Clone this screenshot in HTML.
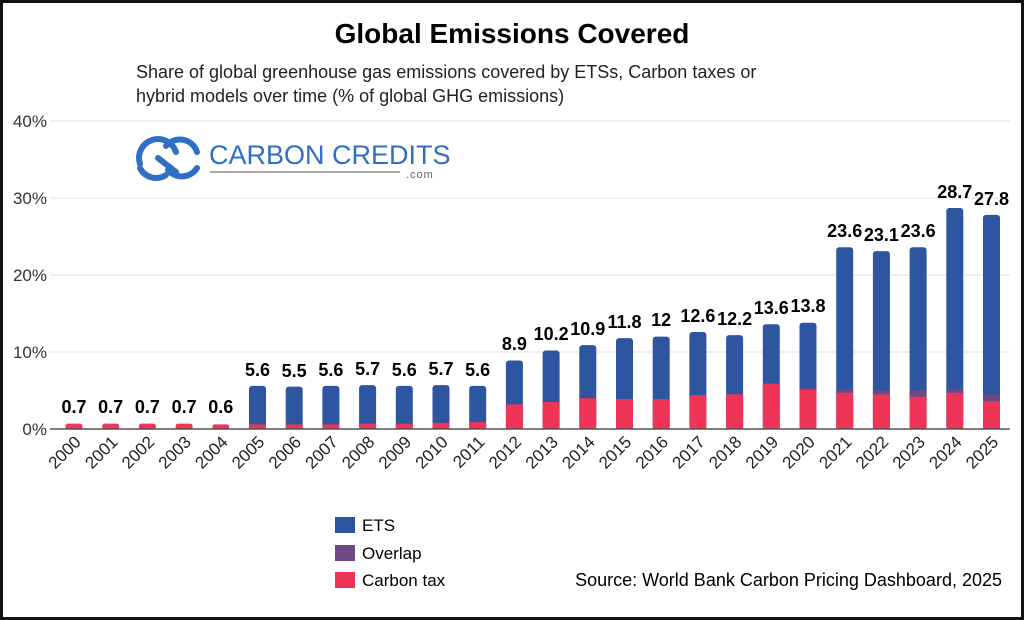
<!DOCTYPE html>
<html><head><meta charset="utf-8"><style>
body{margin:0;background:#fff}
svg{display:block;font-family:"Liberation Sans",Arial,sans-serif}
</style></head><body>
<svg width="1024" height="620" viewBox="0 0 1024 620">
<rect x="1.5" y="1.5" width="1021" height="617" fill="#fff" stroke="#111" stroke-width="3"/>
<text x="512" y="43" text-anchor="middle" font-size="28" font-weight="bold" fill="#000">Global Emissions Covered</text>
<text x="136" y="78" font-size="18" fill="#222">Share of global greenhouse gas emissions covered by ETSs, Carbon taxes or</text>
<text x="136" y="102" font-size="18" fill="#222">hybrid models over time (% of global GHG emissions)</text>
<g stroke="#e2e2e2" stroke-width="1">
<line x1="50" x2="1010" y1="121" y2="121"/><line x1="50" x2="1010" y1="198" y2="198"/>
<line x1="50" x2="1010" y1="275" y2="275"/><line x1="50" x2="1010" y1="352" y2="352"/>
</g>
<g font-size="17" fill="#333" text-anchor="end">
<text x="47" y="127">40%</text><text x="47" y="204">30%</text><text x="47" y="281">20%</text><text x="47" y="358">10%</text><text x="47" y="435">0%</text>
</g>
<g fill="none" stroke="#2f6fc4" stroke-width="6" stroke-linecap="round">
<path d="M140 164 A18 18 0 0 1 176 152"/>
<path d="M158 158 L176 172"/>
<path d="M140 168 A18 18 0 0 0 166 175"/>
<path d="M166 146 A18 18 0 0 1 197 152"/>
<path d="M197 168 A18 18 0 0 1 168 170"/>
</g>
<text x="209" y="164" font-size="27" fill="#2f6fc4">CARBON CREDITS</text>
<line x1="210" y1="172" x2="400" y2="172" stroke="#777" stroke-width="1.2"/>
<text x="406" y="178" font-size="11" fill="#666" letter-spacing="1">.com</text>

<g fill="#2e55a0">
<rect x="249" y="385.9" width="17" height="43" rx="3"/>
<rect x="285.7" y="386.6" width="17" height="42" rx="3"/>
<rect x="322.4" y="385.9" width="17" height="43" rx="3"/>
<rect x="359.1" y="385.1" width="17" height="43" rx="3"/>
<rect x="395.8" y="385.9" width="17" height="43" rx="3"/>
<rect x="432.5" y="385.1" width="17" height="43" rx="3"/>
<rect x="469.2" y="385.9" width="17" height="43" rx="3"/>
<rect x="505.9" y="360.5" width="17" height="68" rx="3"/>
<rect x="542.6" y="350.5" width="17" height="78" rx="3"/>
<rect x="579.3" y="345.1" width="17" height="83" rx="3"/>
<rect x="616" y="338.1" width="17" height="90" rx="3"/>
<rect x="652.7" y="336.6" width="17" height="92" rx="3"/>
<rect x="689.4" y="332" width="17" height="96" rx="3"/>
<rect x="726.1" y="335.1" width="17" height="93" rx="3"/>
<rect x="762.8" y="324.3" width="17" height="104" rx="3"/>
<rect x="799.5" y="322.7" width="17" height="106" rx="3"/>
<rect x="836.2" y="247.3" width="17" height="181" rx="3"/>
<rect x="872.9" y="251.1" width="17" height="177" rx="3"/>
<rect x="909.6" y="247.3" width="17" height="181" rx="3"/>
<rect x="946.3" y="208" width="17" height="221" rx="3"/>
<rect x="983" y="214.9" width="17" height="214" rx="3"/>
</g>
<g fill="#6d4a86">
<rect x="799.5" y="387.4" width="17" height="2.3"/>
<rect x="836.2" y="388.9" width="17" height="3.9"/>
<rect x="872.9" y="390.4" width="17" height="3.9"/>
<rect x="909.6" y="390.5" width="17" height="6.2"/>
<rect x="946.3" y="388.9" width="17" height="3.9"/>
<rect x="983" y="394.4" width="17" height="6.9"/>
</g>
<g fill="#ee3558">
<rect x="65.5" y="423.6" width="17" height="6" rx="2.5"/>
<rect x="102.2" y="423.6" width="17" height="6" rx="2.5"/>
<rect x="138.9" y="423.6" width="17" height="6" rx="2.5"/>
<rect x="175.6" y="423.6" width="17" height="6" rx="2.5"/>
<rect x="212.3" y="424.4" width="17" height="5" rx="2.5"/>
<rect x="249" y="424.4" width="17" height="4.6"/>
<rect x="285.7" y="424.4" width="17" height="4.6"/>
<rect x="322.4" y="424.4" width="17" height="4.6"/>
<rect x="359.1" y="423.6" width="17" height="5.4"/>
<rect x="395.8" y="423.6" width="17" height="5.4"/>
<rect x="432.5" y="422.8" width="17" height="6.2"/>
<rect x="469.2" y="422.1" width="17" height="6.9"/>
<rect x="505.9" y="404.4" width="17" height="24.6"/>
<rect x="542.6" y="402" width="17" height="27"/>
<rect x="579.3" y="398.2" width="17" height="30.8"/>
<rect x="616" y="399" width="17" height="30"/>
<rect x="652.7" y="399" width="17" height="30"/>
<rect x="689.4" y="395.1" width="17" height="33.9"/>
<rect x="726.1" y="394.3" width="17" height="34.7"/>
<rect x="762.8" y="383.6" width="17" height="45.4"/>
<rect x="799.5" y="389.7" width="17" height="39.3"/>
<rect x="836.2" y="392.8" width="17" height="36.2"/>
<rect x="872.9" y="394.3" width="17" height="34.7"/>
<rect x="909.6" y="396.7" width="17" height="32.3"/>
<rect x="946.3" y="392.8" width="17" height="36.2"/>
<rect x="983" y="401.3" width="17" height="27.7"/>
</g>
<line x1="50" x2="1010" y1="429" y2="429" stroke="#555" stroke-width="1.5"/>
<g font-size="18" font-weight="bold" fill="#000" text-anchor="middle">
<text x="74" y="413">0.7</text><text x="110.7" y="413">0.7</text><text x="147.4" y="413">0.7</text><text x="184.1" y="413">0.7</text><text x="220.8" y="413">0.6</text>
<text x="257.5" y="376">5.6</text><text x="294.2" y="377">5.5</text><text x="330.9" y="376">5.6</text><text x="367.6" y="375">5.7</text><text x="404.3" y="376">5.6</text><text x="441" y="375">5.7</text><text x="477.7" y="376">5.6</text>
<text x="514.4" y="350">8.9</text><text x="551.1" y="340">10.2</text><text x="587.8" y="335">10.9</text><text x="624.5" y="328">11.8</text><text x="661.2" y="326">12</text><text x="697.9" y="322">12.6</text><text x="734.6" y="325">12.2</text><text x="771.3" y="314">13.6</text><text x="808" y="312">13.8</text>
<text x="844.7" y="237">23.6</text><text x="881.4" y="241">23.1</text><text x="918.1" y="237">23.6</text><text x="954.8" y="198">28.7</text><text x="991.5" y="205">27.8</text>
</g>
<g font-size="17" fill="#222" text-anchor="end">
<text transform="translate(82,443) rotate(-45)">2000</text>
<text transform="translate(118.7,443) rotate(-45)">2001</text>
<text transform="translate(155.4,443) rotate(-45)">2002</text>
<text transform="translate(192.1,443) rotate(-45)">2003</text>
<text transform="translate(228.8,443) rotate(-45)">2004</text>
<text transform="translate(265.5,443) rotate(-45)">2005</text>
<text transform="translate(302.2,443) rotate(-45)">2006</text>
<text transform="translate(338.9,443) rotate(-45)">2007</text>
<text transform="translate(375.6,443) rotate(-45)">2008</text>
<text transform="translate(412.3,443) rotate(-45)">2009</text>
<text transform="translate(449,443) rotate(-45)">2010</text>
<text transform="translate(485.7,443) rotate(-45)">2011</text>
<text transform="translate(522.4,443) rotate(-45)">2012</text>
<text transform="translate(559.1,443) rotate(-45)">2013</text>
<text transform="translate(595.8,443) rotate(-45)">2014</text>
<text transform="translate(632.5,443) rotate(-45)">2015</text>
<text transform="translate(669.2,443) rotate(-45)">2016</text>
<text transform="translate(705.9,443) rotate(-45)">2017</text>
<text transform="translate(742.6,443) rotate(-45)">2018</text>
<text transform="translate(779.3,443) rotate(-45)">2019</text>
<text transform="translate(816,443) rotate(-45)">2020</text>
<text transform="translate(852.7,443) rotate(-45)">2021</text>
<text transform="translate(889.4,443) rotate(-45)">2022</text>
<text transform="translate(926.1,443) rotate(-45)">2023</text>
<text transform="translate(962.8,443) rotate(-45)">2024</text>
<text transform="translate(999.5,443) rotate(-45)">2025</text>
</g>
<g font-size="17" fill="#000">
<rect x="335" y="517" width="20" height="16" fill="#2e55a0"/><text x="362" y="531">ETS</text>
<rect x="335" y="545" width="20" height="16" fill="#6d4a86"/><text x="362" y="559">Overlap</text>
<rect x="335" y="572" width="20" height="16" fill="#ee3558"/><text x="362" y="586">Carbon tax</text>
</g>
<text x="1002" y="586" text-anchor="end" font-size="18" fill="#000">Source: World Bank Carbon Pricing Dashboard, 2025</text>
</svg>
</body></html>
